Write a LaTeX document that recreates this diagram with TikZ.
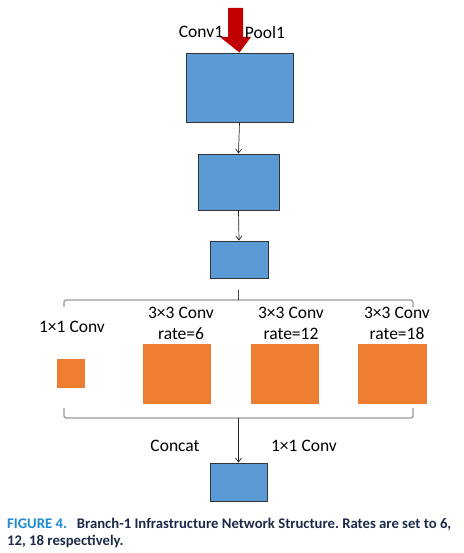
\documentclass[tikz,border=0pt]{standalone}
\usepackage{fontspec}
\setmainfont{Carlito}
\usetikzlibrary{arrows.meta}
\frenchspacing
\definecolor{boxblue}{HTML}{5B9BD5}
\definecolor{boxorange}{HTML}{ED7D31}
\definecolor{arrowred}{HTML}{C00000}
\definecolor{capblue}{HTML}{1B8AD3}
\definecolor{capnavy}{HTML}{1C2A48}
\tikzset{
  bluebox/.style={draw=black!80, line width=0.9pt, fill=boxblue, inner sep=0pt},
  orangebox/.style={fill=boxorange, draw=none, inner sep=0pt},
  lbl/.style={font=\fontsize{17.5}{21}\selectfont, inner sep=0pt, text=black},
  conn/.style={draw=black!85, line width=0.7pt, -{Straight Barb[length=4pt,width=6pt]}},
  brk/.style={draw=black!75, line width=0.6pt, rounded corners=1.5pt},
  captext/.style={font=\fontsize{14.7}{17}\selectfont\bfseries, inner sep=0pt, text=capnavy, anchor=base west},
}
\begin{document}
\begin{tikzpicture}[x=1pt,y=-1pt]
\useasboundingbox (0,0) rectangle (463,553);
% blue boxes
\node[bluebox, minimum width=107pt, minimum height=69pt] (b1) at (239.5,87.5) {};
\node[bluebox, minimum width=81pt, minimum height=56pt] (b2) at (238.5,182) {};
\node[bluebox, minimum width=58pt, minimum height=37pt] (b3) at (239,259.5) {};
\node[bluebox, minimum width=57pt, minimum height=38pt] (b4) at (238.5,482) {};
% red input arrow
\fill[arrowred] (228,8) -- (243,8) -- (243,37) -- (251,37) -- (b1.north) -- (220,37) -- (228,37) -- cycle;
\node[lbl] (conv1) at (201,32) {Conv1};
\node[lbl] (pool1) at (265,32) {Pool1};
% connectors
\draw[conn] (b1.south) -- (b2.north);
\draw[conn] (b2.south) -- (b3.north);
% top bracket
\coordinate (tb) at (238.5,290);
\coordinate (tbm) at (238.5,300);
\draw[brk] (tb) -- (tbm);
\draw[brk] (64,307) -- (64,300) -- (413,300) -- (413,307);
% orange boxes
\node[orangebox, minimum width=28pt, minimum height=29pt] (o0) at (71,373.5) {};
\node[orangebox, minimum width=68pt, minimum height=60pt] (o1) at (177,374) {};
\node[orangebox, minimum width=68pt, minimum height=60pt] (o2) at (285,374) {};
\node[orangebox, minimum width=69pt, minimum height=60pt] (o3) at (392.5,374) {};
% labels
\node[lbl] (l0) at (72,327) {1×1 Conv};
\node[lbl, align=center] (l1) at (181,323) {3×3 Conv\\rate=6};
\node[lbl, align=center] (l2) at (291,323) {3×3 Conv\\rate=12};
\node[lbl, align=center] (l3) at (397,323) {3×3 Conv\\rate=18};
% bottom bracket
\coordinate (bbm) at (238.5,418);
\draw[brk] (64,408) -- (64,418) -- (413,418) -- (413,408);
\draw[conn] (bbm) -- (b4.north);
\node[lbl] (concat) at (175,446) {Concat};
\node[lbl] (l4) at (304,446) {1×1 Conv};
% caption
\node[captext] (cap1) at (7,528) {\textcolor{capblue}{FIGURE 4.}\hspace{0.45em} Branch-1 Infrastructure Network Structure. Rates are set to 6,};
\node[captext] (cap2) at (7,545) {12, 18 respectively.};
\end{tikzpicture}
\end{document}
